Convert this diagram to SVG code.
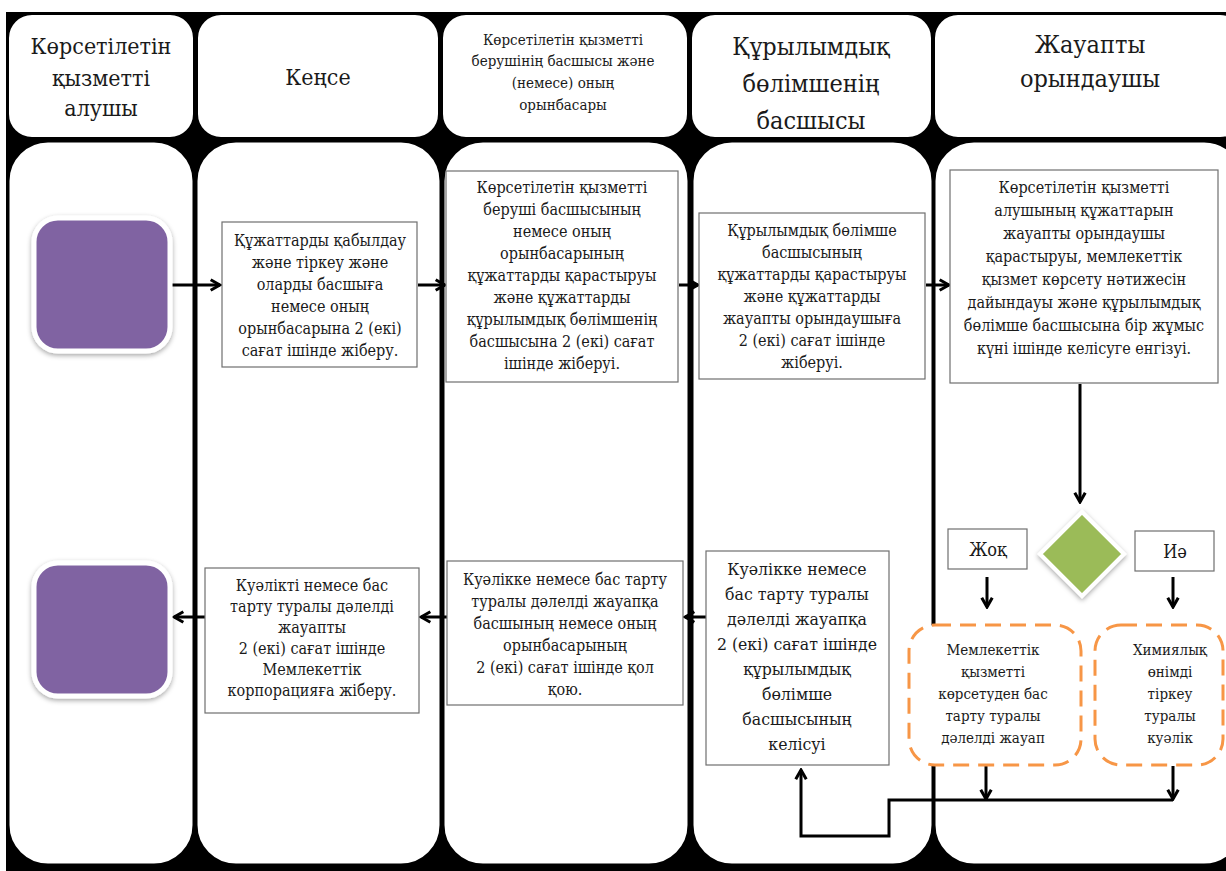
<svg xmlns="http://www.w3.org/2000/svg" width="1226" height="871" viewBox="0 0 1226 871" font-family="'DejaVu Serif Condensed','DejaVu Serif',serif">
<defs>
<style>
.hd{fill:#fff;stroke:#000;stroke-width:2}
.lane{fill:#fff;stroke:#000;stroke-width:3}
.box{fill:#fff;stroke:#6f6f6f;stroke-width:1.2}
.t{fill:#1a1a1a;text-anchor:middle;font-stretch:condensed}
.s15{font-size:15px}
.s16{font-size:16px}
.s17{font-size:17.5px}
.h22{font-size:23px}
.h25{font-size:25px}
.dash{fill:#fff;stroke:#F79646;stroke-width:3;stroke-dasharray:16 9}
.c{fill:none;stroke:#000;stroke-width:3}
.purple{fill:#8064A2;stroke:#fff;stroke-width:5}
</style>
<marker id="ah" viewBox="0 0 12 12" markerWidth="14" markerHeight="14" refX="10" refY="6" orient="auto" markerUnits="userSpaceOnUse">
<path d="M2,1.5 L10,6 L2,10.5" fill="none" stroke="#000" stroke-width="2.6"/>
</marker>
<filter id="sh" x="-20%" y="-20%" width="140%" height="140%">
<feDropShadow dx="0" dy="2" stdDeviation="2.5" flood-color="#000" flood-opacity="0.35"/>
</filter>
</defs>
<rect x="0" y="0" width="1226" height="871" fill="#fff"/>
<rect x="6" y="12" width="1220" height="859" fill="#000"/>

<g id="headers">
<g id="h1"><rect class="hd" x="8" y="14" width="186" height="124" rx="24"/>
<text class="t h22"><tspan x="101" y="54">Көрсетілетін</tspan><tspan x="101" y="86">қызметті</tspan><tspan x="101" y="116">алушы</tspan></text></g>
<g id="h2"><rect class="hd" x="197" y="14" width="242" height="124" rx="24"/>
<text class="t h22" x="318" y="85">Кеңсе</text></g>
<g id="h3"><rect class="hd" x="442" y="14" width="246" height="124" rx="24"/>
<text class="t s15"><tspan x="563" y="45">Көрсетілетін қызметті</tspan><tspan x="563" y="66">берушінің басшысы және</tspan><tspan x="563" y="88">(немесе) оның</tspan><tspan x="563" y="110">орынбасары</tspan></text></g>
<g id="h4"><rect class="hd" x="691" y="14" width="241" height="124" rx="24"/>
<text class="t h25"><tspan x="811" y="55">Құрылымдық</tspan><tspan x="811" y="92">бөлімшенің</tspan><tspan x="811" y="129">басшысы</tspan></text></g>
<g id="h5"><rect class="hd" x="934" y="14" width="310" height="124" rx="24"/>
<text class="t h25"><tspan x="1090" y="53">Жауапты</tspan><tspan x="1090" y="87">орындаушы</tspan></text></g>
</g>

<g id="lanes">
<rect class="lane" x="8" y="141" width="186" height="724" rx="40"/>
<rect class="lane" x="196" y="141" width="245" height="724" rx="40"/>
<rect class="lane" x="443" y="141" width="246" height="724" rx="40"/>
<rect class="lane" x="692" y="141" width="241" height="724" rx="40"/>
<rect class="lane" x="934" y="141" width="310" height="724" rx="40"/>
</g>

<g id="connectors">
<line class="c" x1="172" y1="285" x2="220" y2="285" marker-end="url(#ah)"/>
<line class="c" x1="418" y1="285" x2="445" y2="285" marker-end="url(#ah)"/>
<line class="c" x1="679" y1="285" x2="698" y2="285" marker-end="url(#ah)"/>
<line class="c" x1="926" y1="285" x2="949" y2="285" marker-end="url(#ah)"/>
<line class="c" x1="1080" y1="384" x2="1080" y2="502" marker-end="url(#ah)"/>
<line class="c" x1="987" y1="577" x2="987" y2="607" marker-end="url(#ah)"/>
<line class="c" x1="1173" y1="577" x2="1173" y2="607" marker-end="url(#ah)"/>
<line class="c" x1="986" y1="766" x2="986" y2="799" marker-end="url(#ah)"/>
<line class="c" x1="1173" y1="766" x2="1173" y2="799" marker-end="url(#ah)"/>
<polyline class="c" points="1173,800 889,800 889,836 801,836 801,770" marker-end="url(#ah)"/>
<line class="c" x1="205" y1="617" x2="174" y2="617" marker-end="url(#ah)"/>
<line class="c" x1="447" y1="617" x2="421" y2="617" marker-end="url(#ah)"/>
<line class="c" x1="706" y1="617" x2="685" y2="617" marker-end="url(#ah)"/>
</g>

<g id="start" filter="url(#sh)"><rect class="purple" x="34" y="218" width="136" height="133" rx="24"/></g>
<g id="end" filter="url(#sh)"><rect class="purple" x="34" y="563" width="136" height="133" rx="24"/></g>

<g id="boxA"><rect class="box" x="222" y="222" width="195" height="145"/>
<text class="t s16"><tspan x="320" y="246">Құжаттарды қабылдау</tspan><tspan x="320" y="268">және тіркеу және</tspan><tspan x="320" y="290">оларды басшыға</tspan><tspan x="320" y="312">немесе оның</tspan><tspan x="320" y="334">орынбасарына 2 (екі)</tspan><tspan x="320" y="356">сағат ішінде жіберу.</tspan></text></g>

<g id="boxB"><rect class="box" x="446" y="171" width="232" height="211"/>
<text class="t s16"><tspan x="562" y="193">Көрсетілетін қызметті</tspan><tspan x="562" y="215">беруші басшысының</tspan><tspan x="562" y="237">немесе оның</tspan><tspan x="562" y="259">орынбасарының</tspan><tspan x="562" y="281">құжаттарды қарастыруы</tspan><tspan x="562" y="303">және құжаттарды</tspan><tspan x="562" y="325">құрылымдық бөлімшенің</tspan><tspan x="562" y="347">басшысына 2 (екі) сағат</tspan><tspan x="562" y="369">ішінде жіберуі.</tspan></text></g>

<g id="boxC"><rect class="box" x="699" y="213" width="226" height="166"/>
<text class="t s16"><tspan x="812" y="236">Құрылымдық бөлімше</tspan><tspan x="812" y="258">басшысының</tspan><tspan x="812" y="280">құжаттарды қарастыруы</tspan><tspan x="812" y="302">және құжаттарды</tspan><tspan x="812" y="324">жауапты орындаушыға</tspan><tspan x="812" y="346">2 (екі) сағат ішінде</tspan><tspan x="812" y="368">жіберуі.</tspan></text></g>

<g id="boxD"><rect class="box" x="950" y="170" width="268" height="213"/>
<text class="t s16"><tspan x="1084" y="193">Көрсетілетін қызметті</tspan><tspan x="1084" y="216">алушының құжаттарын</tspan><tspan x="1084" y="239">жауапты орындаушы</tspan><tspan x="1084" y="262">қарастыруы, мемлекеттік</tspan><tspan x="1084" y="285">қызмет көрсету нәтижесін</tspan><tspan x="1084" y="308">дайындауы және құрылымдық</tspan><tspan x="1084" y="331">бөлімше басшысына бір жұмыс</tspan><tspan x="1084" y="354">күні ішінде келісуге енгізуі.</tspan></text></g>

<g id="decision" filter="url(#sh)"><polygon points="1082,512 1124,554 1082,596 1040,554" fill="#9BBB59" stroke="#fff" stroke-width="4"/></g>
<g id="no"><rect class="box" x="948" y="529" width="79" height="40"/><text class="t" style="font-size:18px" x="988" y="556">Жоқ</text></g>
<g id="yes"><rect class="box" x="1135" y="531" width="79" height="40"/><text class="t" style="font-size:18px" x="1175" y="558">Иә</text></g>

<g id="refusal"><rect class="dash" x="909" y="625" width="172" height="140" rx="26"/>
<text class="t s15"><tspan x="993" y="655">Мемлекеттік</tspan><tspan x="993" y="677">қызметті</tspan><tspan x="993" y="699">көрсетуден бас</tspan><tspan x="993" y="721">тарту туралы</tspan><tspan x="993" y="743">дәлелді жауап</tspan></text></g>
<g id="certificate"><rect class="dash" x="1095" y="625" width="128" height="140" rx="26"/>
<text class="t s15"><tspan x="1170" y="655">Химиялық</tspan><tspan x="1170" y="677">өнімді</tspan><tspan x="1170" y="699">тіркеу</tspan><tspan x="1170" y="721">туралы</tspan><tspan x="1170" y="743">куәлік</tspan></text></g>

<g id="boxE"><rect class="box" x="205" y="568" width="214" height="145"/>
<text class="t s16"><tspan x="312" y="591">Куәлікті немесе бас</tspan><tspan x="312" y="612">тарту туралы дәлелді</tspan><tspan x="312" y="633">жауапты</tspan><tspan x="312" y="654">2 (екі) сағат ішінде</tspan><tspan x="312" y="675">Мемлекеттік</tspan><tspan x="312" y="696">корпорацияға жіберу.</tspan></text></g>

<g id="boxF"><rect class="box" x="447" y="561" width="236" height="144"/>
<text class="t s16"><tspan x="565" y="585">Куәлікке немесе бас тарту</tspan><tspan x="565" y="607">туралы дәлелді жауапқа</tspan><tspan x="565" y="629">басшының немесе оның</tspan><tspan x="565" y="651">орынбасарының</tspan><tspan x="565" y="673">2 (екі) сағат ішінде қол</tspan><tspan x="565" y="695">қою.</tspan></text></g>

<g id="boxG"><rect class="box" x="706" y="551" width="183" height="214"/>
<text class="t s17"><tspan x="797" y="575">Куәлікке немесе</tspan><tspan x="797" y="600">бас тарту туралы</tspan><tspan x="797" y="625">дәлелді жауапқа</tspan><tspan x="797" y="650">2 (екі) сағат ішінде</tspan><tspan x="797" y="675">құрылымдық</tspan><tspan x="797" y="700">бөлімше</tspan><tspan x="797" y="725">басшысының</tspan><tspan x="797" y="750">келісуі</tspan></text></g>
</svg>
